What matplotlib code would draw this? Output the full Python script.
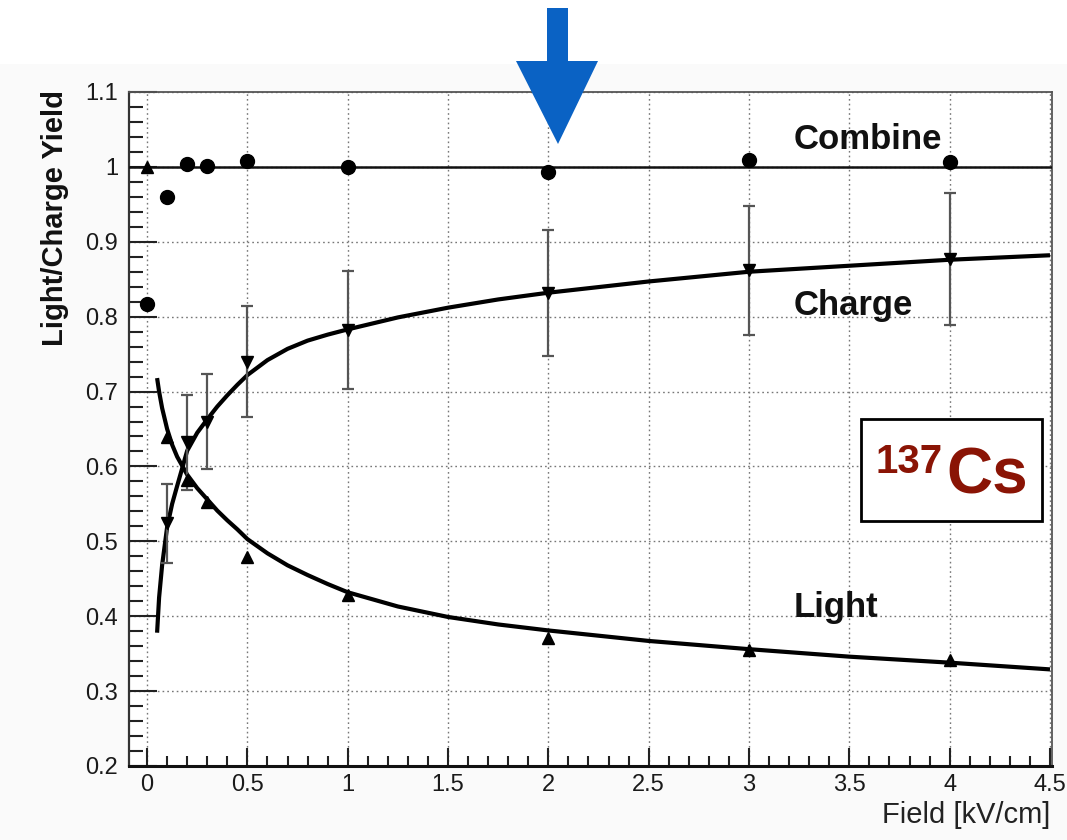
import matplotlib
matplotlib.use("Agg")
import matplotlib.pyplot as plt
from matplotlib.patches import Polygon, Rectangle
from matplotlib.ticker import MultipleLocator, FormatStrFormatter

plt.rcParams['font.family'] = ['Liberation Sans', 'DejaVu Sans']

# ---- data ----
field = [0.0, 0.1, 0.2, 0.3, 0.5, 1.0, 2.0, 3.0, 4.0]
combine_y = [0.817, 0.960, 1.004, 1.001, 1.008, 1.000, 0.993, 1.009, 1.006]

charge_x = [0.1, 0.2, 0.3, 0.5, 1.0, 2.0, 3.0, 4.0]
charge_y = [0.524, 0.632, 0.660, 0.740, 0.782, 0.832, 0.862, 0.877]
charge_err = [0.053, 0.063, 0.064, 0.074, 0.079, 0.084, 0.086, 0.088]

light_x = [0.0, 0.1, 0.2, 0.3, 0.5, 1.0, 2.0, 3.0, 4.0]
light_y = [1.000, 0.639, 0.582, 0.552, 0.479, 0.428, 0.371, 0.355, 0.341]
light_err = [0.0, 0.004, 0.004, 0.004, 0.004, 0.004, 0.005, 0.006, 0.006]

light_fit_x = [0.05, 0.06, 0.075, 0.1, 0.125, 0.15, 0.2, 0.25, 0.3, 0.35, 0.4, 0.45,
               0.5, 0.6, 0.7, 0.8, 0.9, 1.0, 1.25, 1.5, 1.75, 2.0, 2.5, 3.0, 3.5,
               4.0, 4.5]
light_fit_y = [0.718, 0.700, 0.678, 0.650, 0.629, 0.613, 0.589, 0.571, 0.556, 0.541,
               0.528, 0.516, 0.503, 0.484, 0.468, 0.455, 0.443, 0.432, 0.413, 0.399,
               0.389, 0.381, 0.367, 0.356, 0.346, 0.338, 0.329]

charge_fit_x = [0.05, 0.06, 0.075, 0.1, 0.125, 0.15, 0.2, 0.25, 0.3, 0.35, 0.4, 0.45,
                0.5, 0.6, 0.7, 0.8, 0.9, 1.0, 1.25, 1.5, 1.75, 2.0, 2.5, 3.0, 3.5,
                4.0, 4.5]
charge_fit_y = [0.378, 0.425, 0.468, 0.519, 0.550, 0.574, 0.621, 0.645, 0.663, 0.680,
                0.695, 0.709, 0.722, 0.742, 0.757, 0.768, 0.776, 0.783, 0.799, 0.812,
                0.823, 0.832, 0.847, 0.860, 0.868, 0.876, 0.882]

x_ticks = [0, 0.5, 1, 1.5, 2, 2.5, 3, 3.5, 4, 4.5]
y_ticks = [0.2, 0.3, 0.4, 0.5, 0.6, 0.7, 0.8, 0.9, 1.0, 1.1]

W, H = 1067, 840
fig = plt.figure(figsize=(W / 100, H / 100), dpi=100, facecolor='#fafafa')
fig.patches.append(Rectangle((0, 1 - 64 / H), 1, 64 / H, transform=fig.transFigure,
                             facecolor='white', edgecolor='none', zorder=0))
ax = fig.add_axes([129 / W, 1 - 766 / H, (1052 - 129) / W, (766 - 92) / H])
ax.set_facecolor('white')

ax.set_xlim(-0.09, 4.51)
ax.set_ylim(0.2, 1.1)

# grid
ax.set_xticks(x_ticks)
ax.set_yticks(y_ticks)
ax.xaxis.set_minor_locator(MultipleLocator(0.1))
ax.yaxis.set_minor_locator(MultipleLocator(0.02))
ax.xaxis.set_major_formatter(FormatStrFormatter('%g'))
ax.yaxis.set_major_formatter(FormatStrFormatter('%g'))
ax.grid(True, which='major', linestyle=(0, (1.2, 2.2)), color='#777777', linewidth=1.0)
ax.set_axisbelow(True)

ax.tick_params(axis='both', which='both', direction='in', top=False, right=False,
               labelsize=17, labelcolor='#1a1a1a', color='#222222')
ax.tick_params(axis='y', which='major', length=20, width=1.5, pad=8)
ax.tick_params(axis='y', which='minor', length=10, width=1.5)
ax.tick_params(axis='x', which='major', length=13, width=1.5, pad=6)
ax.tick_params(axis='x', which='minor', length=7, width=1.5)

for s in ['top', 'right']:
    ax.spines[s].set_color('#555555')
    ax.spines[s].set_linewidth(1.3)
ax.spines['left'].set_color('#333333')
ax.spines['left'].set_linewidth(1.6)
ax.spines['bottom'].set_color('#111111')
ax.spines['bottom'].set_linewidth(2.2)

# combine line at 1
ax.axhline(1.0, color='#111111', linewidth=1.8, zorder=3)

# fit curves
ax.plot(light_fit_x, light_fit_y, color='black', linewidth=3.0, zorder=4,
        solid_capstyle='butt', solid_joinstyle='round')
ax.plot(charge_fit_x, charge_fit_y, color='black', linewidth=3.0, zorder=4,
        solid_capstyle='butt', solid_joinstyle='round')

# data points
ax.errorbar(charge_x, charge_y, yerr=charge_err, fmt='v', color='black',
            ecolor='#555555', elinewidth=1.6, capsize=4, capthick=1.6,
            markersize=8, zorder=5)
ax.errorbar(light_x, light_y, yerr=light_err, fmt='^', color='black',
            ecolor='#555555', elinewidth=1.6, capsize=0, markersize=8, zorder=5)
ax.plot(field, combine_y, 'o', color='black', markersize=10, zorder=6)

# labels
ax.text(3.22, 1.036, 'Combine', fontsize=25, fontweight='bold', ha='left',
        va='center', color='#111111', zorder=7)
ax.text(3.22, 0.815, 'Charge', fontsize=25, fontweight='bold', ha='left',
        va='center', color='#111111', zorder=7)
ax.text(3.22, 0.412, 'Light', fontsize=25, fontweight='bold', ha='left',
        va='center', color='#111111', zorder=7)

fig.text(55 / W, 1 - 90 / H, 'Light/Charge Yield', rotation=90, fontsize=21,
         fontweight='bold', ha='center', va='top', color='#111111')
fig.text(1050 / W, 1 - 815 / H, 'Field [kV/cm]', fontsize=21, ha='right',
         va='center', color='#222222')

# 137Cs box
fig.patches.append(Rectangle((861 / W, 1 - 521 / H), (1042 - 861) / W, (521 - 419) / H,
                             transform=fig.transFigure, facecolor='white',
                             edgecolor='black', linewidth=2.0, zorder=8))
red = '#8a1405'
fig.text(943 / W, 1 - 462 / H, '137', fontsize=29, fontweight='bold', ha='right',
         va='center', color=red, zorder=9)
fig.text(946 / W, 1 - 476 / H, 'Cs', fontsize=46, fontweight='bold', ha='left',
         va='center', color=red, zorder=9)

# blue arrow
arrow_px = [(547, 8), (568, 8), (568, 61), (598, 61), (558, 144),
            (516, 61), (547, 61)]
fig.patches.append(Polygon([(x / W, 1 - y / H) for x, y in arrow_px], closed=True,
                           transform=fig.transFigure, facecolor='#0a62c4',
                           edgecolor='none', zorder=10))

fig.savefig('out.png', dpi=100, facecolor=fig.get_facecolor())
